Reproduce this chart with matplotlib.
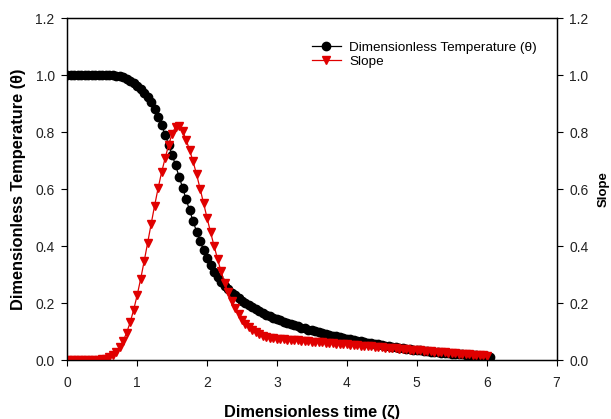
import numpy as np
import matplotlib
matplotlib.use("Agg")
import matplotlib.pyplot as plt

plt.rcParams['font.family'] = ['Liberation Sans', 'DejaVu Sans']

# sampling step of the dimensionless time, both series start at 0
time_step = 0.05

theta = [1.0, 1.0, 1.0, 1.0, 1.0, 1.0, 1.0, 1.0, 1.0, 1.0, 1.0, 1.0, 1.0, 1.0,
         0.999, 0.997, 0.994, 0.988, 0.980, 0.972, 0.962, 0.952, 0.940, 0.925,
         0.906, 0.882, 0.855, 0.826, 0.792, 0.757, 0.722, 0.684, 0.645, 0.606,
         0.566, 0.527, 0.489, 0.452, 0.418, 0.387, 0.358, 0.333, 0.311, 0.292,
         0.276, 0.262, 0.249, 0.238, 0.228, 0.218, 0.209, 0.201, 0.193, 0.186,
         0.179, 0.172, 0.166, 0.160, 0.155, 0.150, 0.145, 0.140, 0.136, 0.131,
         0.127, 0.123, 0.119, 0.115, 0.112, 0.108, 0.105, 0.102, 0.099, 0.096,
         0.093, 0.090, 0.087, 0.084, 0.081, 0.079, 0.076, 0.074, 0.071, 0.069,
         0.067, 0.064, 0.062, 0.060, 0.058, 0.056, 0.054, 0.052, 0.050, 0.048,
         0.046, 0.045, 0.043, 0.041, 0.040, 0.038, 0.036, 0.035, 0.033, 0.032,
         0.031, 0.029, 0.028, 0.027, 0.026, 0.025, 0.024, 0.023, 0.022, 0.021,
         0.020, 0.019, 0.018, 0.017, 0.016, 0.015, 0.014, 0.013]

slope = [0.0, 0.0, 0.0, 0.0, 0.0, 0.0, 0.0, 0.0, 0.0,
         0.001, 0.003, 0.006, 0.011, 0.018, 0.030, 0.046, 0.068, 0.097, 0.133,
         0.177, 0.228, 0.285, 0.347, 0.412, 0.478, 0.543, 0.604, 0.660, 0.709,
         0.755, 0.795, 0.820, 0.822, 0.805, 0.775, 0.738, 0.698, 0.653, 0.603,
         0.552, 0.500, 0.450, 0.402, 0.356, 0.312, 0.273, 0.240, 0.210, 0.184,
         0.162, 0.143, 0.128, 0.116, 0.106, 0.098, 0.092, 0.087, 0.083, 0.080,
         0.078, 0.076, 0.075, 0.074, 0.073, 0.072, 0.071, 0.070, 0.069, 0.068,
         0.067, 0.066, 0.065, 0.064, 0.063, 0.062, 0.061, 0.060, 0.059, 0.058,
         0.057, 0.056, 0.055, 0.054, 0.053, 0.052, 0.051, 0.050, 0.049, 0.048,
         0.047, 0.046, 0.045, 0.044, 0.043, 0.042, 0.041, 0.040, 0.039, 0.038,
         0.037, 0.036, 0.035, 0.034, 0.033, 0.032, 0.031, 0.030, 0.029, 0.028,
         0.027, 0.026, 0.025, 0.024, 0.023, 0.022, 0.021, 0.020, 0.019, 0.018,
         0.017, 0.016]

x_ticks = [0, 1, 2, 3, 4, 5, 6, 7]
y_ticks = [0.0, 0.2, 0.4, 0.6, 0.8, 1.0, 1.2]

zeta_theta = np.arange(len(theta)) * time_step
zeta_slope = np.arange(len(slope)) * time_step

fig = plt.figure(figsize=(6.11, 4.19), dpi=100)
ax = fig.add_axes([0.110, 0.140, 0.801, 0.816])
ax2 = ax.twinx()

l1, = ax.plot(zeta_theta, theta, '-o', color='black', lw=0.9, ms=6,
              label='Dimensionless Temperature (θ)', zorder=3)
l2, = ax2.plot(zeta_slope, slope, '-v', color='#e00000', lw=0.9, ms=6,
               mec='#e00000', label='Slope', zorder=2)

ax.set_xlim(0, 7)
ax.set_ylim(0, 1.2)
ax2.set_ylim(0, 1.2)
ax.set_xticks(x_ticks)
ax.set_yticks(y_ticks)
ax2.set_yticks(y_ticks)
ax.set_yticklabels([f'{v:.1f}' for v in y_ticks])
ax2.set_yticklabels([f'{v:.1f}' for v in y_ticks])

for a in (ax, ax2):
    a.tick_params(direction='out', length=4, width=0.8, labelsize=10,
                  labelcolor='#222222')
    for s in a.spines.values():
        s.set_linewidth(0.9)
ax.tick_params(axis='x', pad=7)
ax.tick_params(axis='y', pad=5)
ax2.tick_params(axis='y', pad=5)

ax.set_xlabel('Dimensionless time (ζ)', fontsize=11.8, fontweight='bold', labelpad=11)
ax.set_ylabel('Dimensionless Temperature (θ)', fontsize=11.8, fontweight='bold', labelpad=7)
ax2.set_ylabel('Slope', fontsize=9.5, fontweight='bold')
ax2.yaxis.set_label_coords(1.083, 0.5)

ax.legend(handles=[l1, l2], loc='upper left', bbox_to_anchor=(0.48, 0.96),
          frameon=False, fontsize=9.7, handlelength=2.2, handletextpad=0.6,
          labelspacing=0.1, borderpad=0.2)

fig.savefig('out.png', dpi=100)
